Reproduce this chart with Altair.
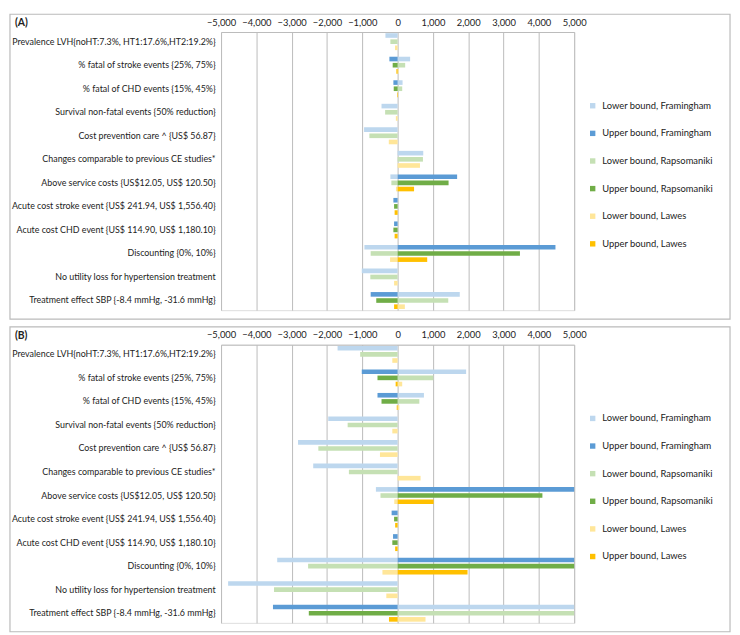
import altair as alt
import pandas as pd

categories = [
    "Prevalence LVH{noHT:7.3%, HT1:17.6%,HT2:19.2%}",
    "% fatal of stroke events {25%, 75%}",
    "% fatal of CHD events {15%, 45%}",
    "Survival non-fatal events {50% reduction}",
    "Cost prevention care ^ {US$ 56.87}",
    "Changes comparable to previous CE studies*",
    "Above service costs {US$12.05, US$ 120.50}",
    "Acute cost stroke event {US$ 241.94, US$ 1,556.40}",
    "Acute cost CHD event {US$ 114.90, US$ 1,180.10}",
    "Discounting {0%, 10%}",
    "No utility loss for hypertension treatment",
    "Treatment effect SBP {-8.4 mmHg, -31.6 mmHg}",
]

series = [
    "Lower bound, Framingham",
    "Upper bound, Framingham",
    "Lower bound, Rapsomaniki",
    "Upper bound, Rapsomaniki",
    "Lower bound, Lawes",
    "Upper bound, Lawes",
]
sources = ["Framingham", "Rapsomaniki", "Lawes"]
colors = ["#BDD7EE", "#5B9BD5", "#C5E0B4", "#70AD47", "#FFE699", "#FFC000"]
ticks = [-5000, -4000, -3000, -2000, -1000, 0, 1000, 2000, 3000, 4000, 5000]

# Panel A
a_lower_fram = [-345, 354, 140, -456, -950, 726, -205, 0, 0, -940, -1015, 1760]
a_upper_fram = [0, -233, -120, 0, 0, 0, 1685, -120, -100, 4470, 0, -763]
a_lower_raps = [-205, 214, 130, -354, -800, 717, -177, 0, 0, -763, -773, 1434]
a_upper_raps = [0, -140, -110, 0, 0, 0, 1443, -100, -120, 3464, 0, -605]
a_lower_lawes = [-75, 30, 15, -50, -250, 633, -47, 0, 0, -214, -100, 205]
a_upper_lawes = [0, -35, -15, 0, 0, 0, 466, -85, -85, 838, 0, -100]

# Panel B
b_lower_fram = [-1700, 1940, 745, -1965, -2820, -2390, -615, 0, 0, -3410, -4800, 5000]
b_upper_fram = [0, -1015, -570, 0, 0, 0, 5000, -170, -130, 5000, 0, -3530]
b_lower_raps = [-1060, 1010, 615, -1415, -2245, -1380, -485, 0, 0, -2535, -3500, 5000]
b_upper_raps = [0, -570, -456, 0, 0, 0, 4100, -100, -150, 5000, 0, -2515]
b_lower_lawes = [-150, 130, 50, -150, -500, 650, -95, 0, 0, -430, -320, 790]
b_upper_lawes = [0, -56, -25, 0, 0, 0, 1020, -70, -70, 1980, 0, -245]

FONT = "Lato"
FS = 9
FS2 = 9.5
W, H = 358, 282
LEFT = 214
RIGHT = 516
TOP = 18
BOTTOM = 9


def build_df(arrays):
    rows = []
    for si, (name, vals) in enumerate(zip(series, arrays)):
        for cat, v in zip(categories, vals):
            rows.append({
                "category": cat,
                "series": name,
                "source": sources[si // 2],
                "z": si % 2,
                "value": v,
            })
    return pd.DataFrame(rows)


def panel(arrays, label):
    df = build_df(arrays)
    bars = alt.Chart(df).mark_bar().encode(
        y=alt.Y("category:N", sort=categories,
                scale=alt.Scale(paddingInner=0.28, paddingOuter=0.05),
                axis=alt.Axis(title=None, ticks=False, domain=False, labelLimit=400,
                              labelFont=FONT, labelFontSize=FS, labelColor="#222222",
                              labelPadding=6)),
        yOffset=alt.YOffset("source:N", sort=sources,
                            scale=alt.Scale(paddingInner=0.25, paddingOuter=0)),
        x=alt.X("value:Q", stack=None,
                scale=alt.Scale(domain=[-5000, 5000], clamp=True, nice=False),
                axis=alt.Axis(orient="top", values=ticks, format=",d", title=None,
                              grid=True, gridColor="#BBBBBB", ticks=False,
                              domainColor="#BBBBBB", labelFont=FONT, labelFontSize=FS2,
                              labelColor="#222222", labelPadding=5, labelOverlap=False,
                              labelFlush=False)),
        color=alt.Color("series:N", sort=series,
                        scale=alt.Scale(domain=series, range=colors),
                        legend=alt.Legend(title=None, orient="none", legendX=372, legendY=70,
                                          symbolType="square", symbolSize=30,
                                          symbolStrokeWidth=0, labelFont=FONT,
                                          labelFontSize=FS2, labelColor="#222222",
                                          rowPadding=17, labelOffset=5)),
        order=alt.Order("z:Q"),
    )
    one = pd.DataFrame({"k": [0]})
    box = alt.Chart(one).mark_rect(filled=False, stroke="#BBBBBB", strokeWidth=1.2).encode(
        x=alt.value(-LEFT), x2=alt.value(RIGHT), y=alt.value(-TOP), y2=alt.value(H + BOTTOM)
    )
    title = alt.Chart(one).mark_text(align="left", baseline="middle", font=FONT,
                                     fontSize=10.5, fontWeight="bold", color="#222222").encode(
        x=alt.value(-LEFT + 5), y=alt.value(-9), text=alt.value(label)
    )
    return alt.layer(box, bars, title).properties(width=W, height=H)


chart = alt.vconcat(
    panel([a_lower_fram, a_upper_fram, a_lower_raps, a_upper_raps, a_lower_lawes, a_upper_lawes], "(A)"),
    panel([b_lower_fram, b_upper_fram, b_lower_raps, b_upper_raps, b_lower_lawes, b_upper_lawes], "(B)"),
    spacing=4,
).resolve_scale(color="independent").resolve_legend(color="independent").configure_view(
    stroke=None
).configure(font=FONT).properties(padding=0)

chart.save("out.html", embed_options={"renderer": "svg", "actions": False})
